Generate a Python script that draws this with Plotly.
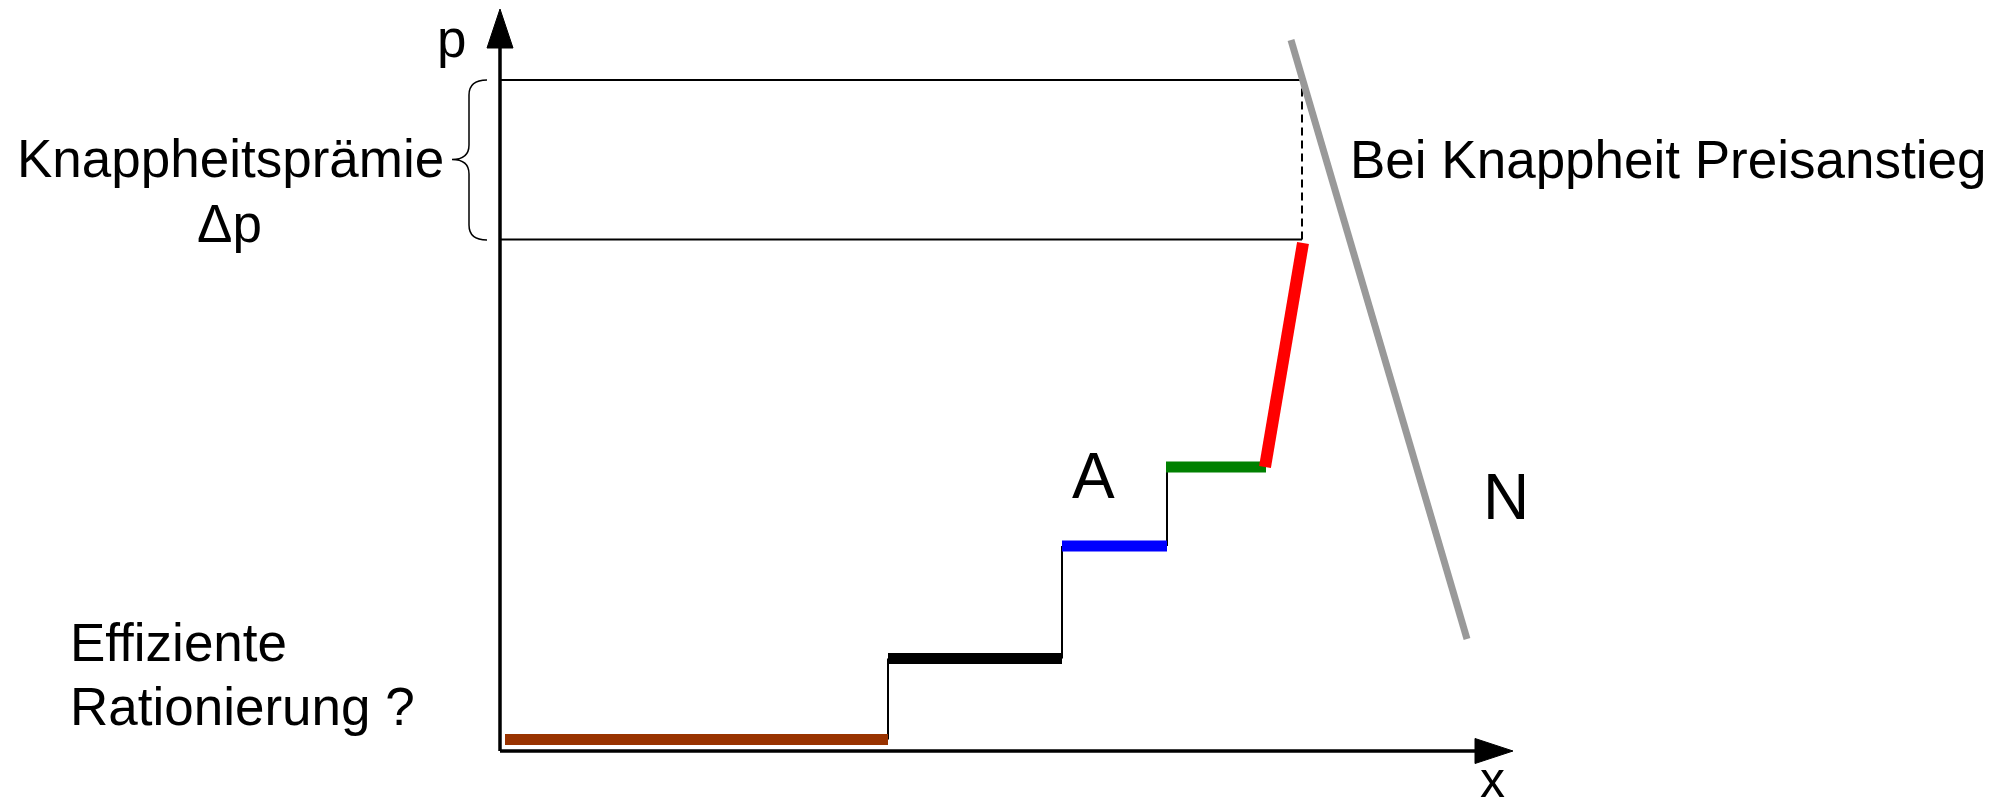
import plotly.graph_objects as go

# ---- data (economic units: quantity x, price p) ----
step_x_start = [0.5, 38.8, 56.2, 66.6]
step_x_end = [38.8, 56.2, 66.7, 76.6]
step_p = [1.15, 9.25, 20.5, 28.4]
step_colors = ["#993300", "#000000", "#0000ff", "#008000"]

red_x = [76.5, 80.3]
red_p = [28.4, 50.8]

demand_x = [79.1, 96.7]
demand_p = [71.1, 11.2]

p_low = 51.15
p_high = 67.1
x_cap = 80.2

x_axis_end = 101.3
p_axis_end = 74.2

FONT = "Liberation Sans, Arial, sans-serif"
TS = 53

fig = go.Figure()

def line(xs, ys, color, width, dash="solid"):
    fig.add_trace(go.Scatter(x=xs, y=ys, mode="lines",
                             line=dict(color=color, width=width, dash=dash),
                             hoverinfo="skip", showlegend=False))

# horizontal price lines
line([0, x_cap], [p_high, p_high], "black", 2)
line([0, x_cap], [p_low, p_low], "black", 2)
# dashed vertical
line([x_cap, x_cap], [p_low, p_high], "black", 2, dash="8px,5px")

# thin step risers
for i in range(len(step_p) - 1):
    line([step_x_end[i], step_x_end[i]], [step_p[i], step_p[i + 1]], "black", 2)

# thick step segments
for xs, xe, p, c in zip(step_x_start, step_x_end, step_p, step_colors):
    line([xs, xe], [p, p], c, 11)

# red rising part
line(red_x, red_p, "#ff0000", 12)

# demand N
line(demand_x, demand_p, "#999999", 7)

# axes
line([0, 0], [0, p_axis_end - 3.9], "black", 3.5)
line([0, x_axis_end - 3.8], [0, 0], "black", 3.5)
# arrowheads
fig.add_trace(go.Scatter(x=[-1.3, 1.3, 0, -1.3], y=[p_axis_end - 3.9, p_axis_end - 3.9, p_axis_end, p_axis_end - 3.9],
                         mode="lines", fill="toself", fillcolor="black",
                         line=dict(color="black", width=1), hoverinfo="skip", showlegend=False))
fig.add_trace(go.Scatter(x=[x_axis_end - 3.8, x_axis_end - 3.8, x_axis_end, x_axis_end - 3.8], y=[1.25, -1.25, 0, 1.25],
                         mode="lines", fill="toself", fillcolor="black",
                         line=dict(color="black", width=1), hoverinfo="skip", showlegend=False))

# curly brace
brace = ("M -1.3 67.1 Q -3.1 67.1 -3.1 65.6 L -3.1 60.6 Q -3.1 59.15 -4.8 59.15 "
         "Q -3.1 59.15 -3.1 57.7 L -3.1 52.6 Q -3.1 51.1 -1.3 51.1")
fig.add_shape(type="path", path=brace, xref="x", yref="y",
              line=dict(color="black", width=1.5))

def text(x, y, s, size=TS, xanchor="center"):
    fig.add_annotation(x=x, y=y, text=s, showarrow=False, xref="x", yref="y",
                       xanchor=xanchor, yanchor="middle",
                       font=dict(family=FONT, size=size, color="black"))

text(-4.9, 71.3, "p")
text(99.25, -2.85, "x", size=50)
text(-27.0, 59.3, "Knappheitsprämie")
text(-27.1, 52.75, "Δp")
text(84.8, 59.2, "Bei Knappheit Preisanstieg", xanchor="left")
text(-43.2, 10.85, "Effiziente", xanchor="left")
text(-43.2, 4.45, "Rationierung ?", xanchor="left")
text(59.3, 27.55, "A", size=64)
text(100.6, 25.45, "N", size=64)

# page has an 8px body margin: figure sized/ranged to compensate
fig.update_layout(
    width=1989, height=800,
    margin=dict(l=0, r=0, t=0, b=0),
    paper_bgcolor="white", plot_bgcolor="white",
    xaxis=dict(range=[-49.2, 149.7], visible=False, fixedrange=True),
    yaxis=dict(range=[-5.7, 74.3], visible=False, fixedrange=True),
)

fig.write_html("out.html")
